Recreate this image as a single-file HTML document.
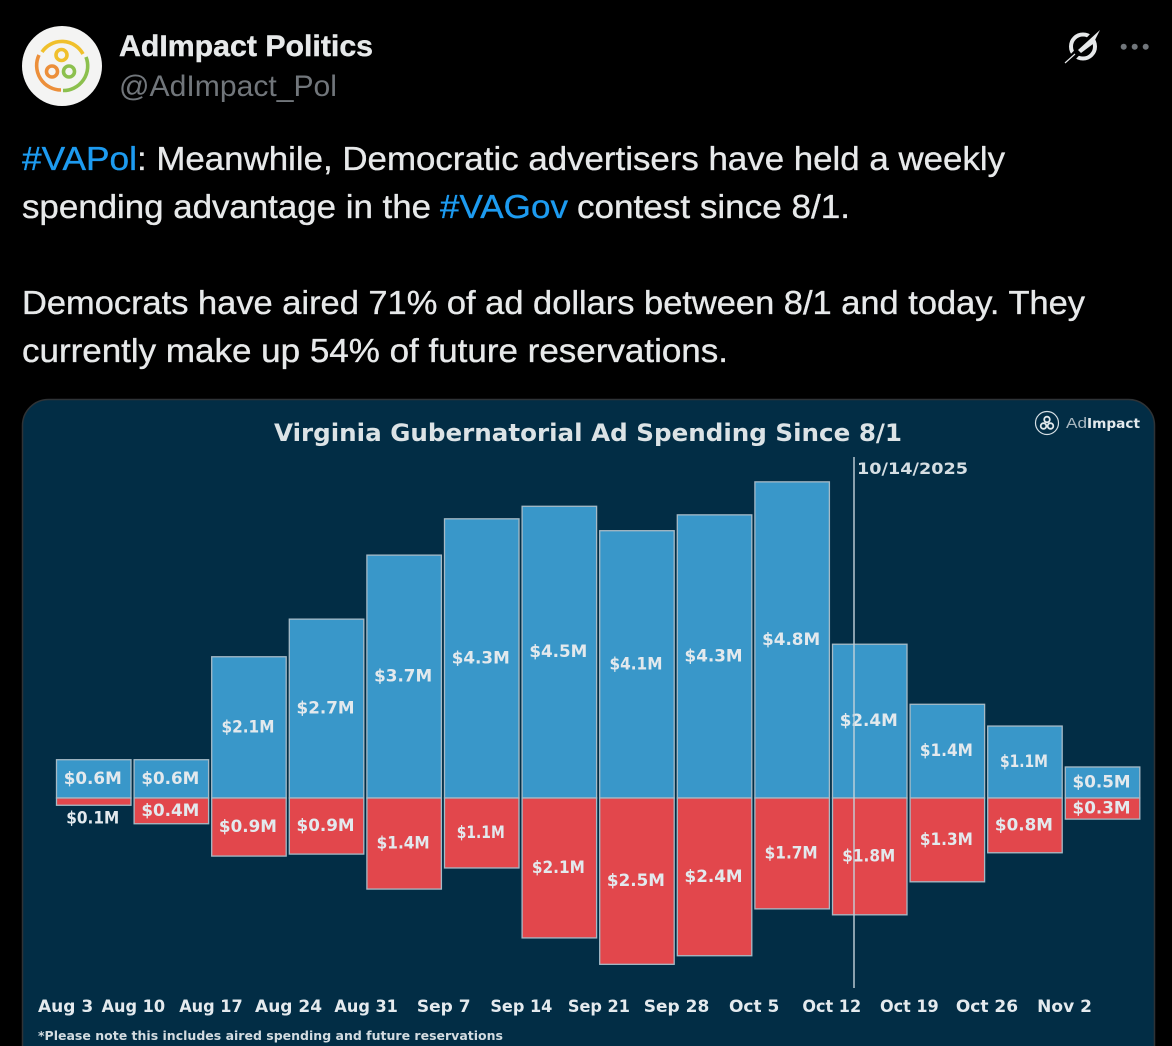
<!DOCTYPE html>
<html lang="en">
<head>
<meta charset="utf-8">
<title>AdImpact Politics post</title>
<style>
html,body{margin:0;padding:0;background:#000;width:1172px;height:1046px;overflow:hidden}
svg{display:block}
.tw{font-family:"Liberation Sans",sans-serif;font-size:33px;fill:#e7e9ea;stroke:#e7e9ea;stroke-width:.35px}
.ch{font-family:"DejaVu Sans","Liberation Sans",sans-serif;font-weight:700}
.val{font-size:16.5px;fill:#e3e9ed;text-anchor:middle}
.tick{font-size:17px;fill:#e4eaee;text-anchor:middle}
</style>
</head>
<body>
<svg id="page" xmlns="http://www.w3.org/2000/svg" width="1172" height="1046" viewBox="0 0 1172 1046">
  <rect width="1172" height="1046" fill="#000"/>

  <g>
    <circle cx="62" cy="66" r="40" fill="#f4f4f3"/>
    <g fill="none" stroke-width="3.6">
      <path d="M42 52 A24 24 0 0 1 83 54" stroke="#f0c02c"/>
      <path d="M86 57 A24.5 24.5 0 0 1 63 90.5" stroke="#8cc04e"/>
      <path d="M61 90 A24.5 24.5 0 0 1 39 55" stroke="#ec8f3a"/>
      <circle cx="61.5" cy="55" r="5.5" stroke="#f0c02c"/>
      <circle cx="52" cy="71.5" r="5.5" stroke="#ec8f3a"/>
      <circle cx="69" cy="71.5" r="5.5" stroke="#8cc04e"/>
    </g>
  </g>
  <text x="119" y="56" font-family="Liberation Sans, sans-serif" font-weight="700" font-size="30" fill="#e7e9ea" stroke="#e7e9ea" stroke-width="0.4" textLength="254" lengthAdjust="spacingAndGlyphs">AdImpact Politics</text>
  <text x="119" y="96" font-family="Liberation Sans, sans-serif" font-size="30" fill="#71767b" textLength="218" lengthAdjust="spacingAndGlyphs">@AdImpact_Pol</text>

  <g>
    <circle cx="1083" cy="46.5" r="12" fill="none" stroke="#e7e9ea" stroke-width="4"/>
    <path d="M1066 64 L1100 29" stroke="#000" stroke-width="7"/>
    <path d="M1100 30 L1093 44 L1081 53 L1078 50 Z" fill="#e7e9ea"/>
    <path d="M1065 63 L1075 54" stroke="#e7e9ea" stroke-width="1.2"/>
  </g>
  <g fill="#71767b">
    <circle cx="1123.7" cy="46.7" r="3"/><circle cx="1134.7" cy="46.7" r="3"/><circle cx="1145.7" cy="46.7" r="3"/>
  </g>

  <g>
    <text class="tw" x="22" y="170" style="fill:#1d9bf0;stroke:#1d9bf0" textLength="115" lengthAdjust="spacingAndGlyphs">#VAPol</text>
    <text class="tw" x="137" y="170" textLength="868" lengthAdjust="spacingAndGlyphs">: Meanwhile, Democratic advertisers have held a weekly</text>
    <text class="tw" x="22" y="218" textLength="409" lengthAdjust="spacingAndGlyphs">spending advantage in the</text>
    <text class="tw" x="440" y="218" style="fill:#1d9bf0;stroke:#1d9bf0" textLength="128" lengthAdjust="spacingAndGlyphs">#VAGov</text>
    <text class="tw" x="577" y="218" textLength="273" lengthAdjust="spacingAndGlyphs">contest since 8/1.</text>
    <text class="tw" x="22" y="314" textLength="1063" lengthAdjust="spacingAndGlyphs">Democrats have aired 71% of ad dollars between 8/1 and today. They</text>
    <text class="tw" x="22" y="362" textLength="706" lengthAdjust="spacingAndGlyphs">currently make up 54% of future reservations.</text>
  </g>

  <g>
    <rect x="22.5" y="399.5" width="1132" height="690" rx="26" ry="26" fill="#022d45" stroke="#2f3336" stroke-width="1.5"/>
  </g>
  <text class="ch" x="274" y="441" font-size="24" fill="#dce3e6" textLength="628" lengthAdjust="spacingAndGlyphs">Virginia Gubernatorial Ad Spending Since 8/1</text>

  <g>
    <circle cx="1047" cy="423" r="11.5" fill="none" stroke="#d7e0e5" stroke-width="1.2"/>
    <g fill="none" stroke="#e3e9ec" stroke-width="1.8">
      <circle cx="1047" cy="419.5" r="2.8"/><circle cx="1043.5" cy="426" r="2.8"/><circle cx="1050.5" cy="426" r="2.8"/>
    </g>
    <text x="1066" y="428" font-family="Liberation Sans, sans-serif" font-size="14.5" fill="#a9b8c1" textLength="21" lengthAdjust="spacingAndGlyphs">Ad</text>
    <text x="1087" y="428" font-family="DejaVu Sans, sans-serif" font-weight="700" font-size="13.5" fill="#e3e9ec" textLength="53" lengthAdjust="spacingAndGlyphs">Impact</text>
  </g>

  <g id="bars"></g>
  <g id="value-labels"></g>
  <g id="x-axis"></g>

  <line x1="854" x2="854" y1="457" y2="988" stroke="#c3d2da" stroke-width="1.4"/>
  <text class="ch" x="857" y="474" font-size="16" fill="#d5dee3" textLength="111" lengthAdjust="spacingAndGlyphs">10/14/2025</text>
  <text class="ch" x="38" y="1040" font-size="12.5" fill="#d3dce1" textLength="465" lengthAdjust="spacingAndGlyphs">*Please note this includes aired spending and future reservations</text>
</svg>

<script>
const weeks = ["Aug 3","Aug 10","Aug 17","Aug 24","Aug 31","Sep 7","Sep 14","Sep 21","Sep 28","Oct 5","Oct 12","Oct 19","Oct 26","Nov 2"];
const demSpend = [0.58,0.58,2.14,2.71,3.68,4.23,4.42,4.05,4.29,4.79,2.33,1.42,1.09,0.47];
const repSpend = [0.11,0.39,0.88,0.85,1.38,1.06,2.12,2.52,2.39,1.68,1.77,1.27,0.83,0.32];
const demLabels = ["$0.6M","$0.6M","$2.1M","$2.7M","$3.7M","$4.3M","$4.5M","$4.1M","$4.3M","$4.8M","$2.4M","$1.4M","$1.1M","$0.5M"];
const repLabels = ["$0.1M","$0.4M","$0.9M","$0.9M","$1.4M","$1.1M","$2.1M","$2.5M","$2.4M","$1.7M","$1.8M","$1.3M","$0.8M","$0.3M"];

const NS = "http://www.w3.org/2000/svg";
const baseY = 798;
const pxPerMillion = 66;
const bandStart = 56.5;
const bandStep = 77.6;
const barWidth = 74.5;
function xBand(i){ return bandStart + i * bandStep; }
function yValue(v){ return baseY - v * pxPerMillion; }
function countOnes(s){ return s.split("1").length - 1; }

const barsG = document.getElementById("bars");
const labelsG = document.getElementById("value-labels");
const axisG = document.getElementById("x-axis");

function makeRect(x, y, h, fill){
  const r = document.createElementNS(NS, "rect");
  r.setAttribute("x", x);
  r.setAttribute("y", y);
  r.setAttribute("width", barWidth);
  r.setAttribute("height", h);
  r.setAttribute("fill", fill);
  r.setAttribute("stroke", "#a6bac6");
  r.setAttribute("stroke-width", "1.3");
  return r;
}
function makeLabel(x, y, s){
  const t = document.createElementNS(NS, "text");
  t.setAttribute("class", "ch val");
  t.setAttribute("x", x);
  t.setAttribute("y", y);
  t.setAttribute("textLength", 58 - 5 * countOnes(s));
  t.setAttribute("lengthAdjust", "spacingAndGlyphs");
  t.textContent = s;
  return t;
}

weeks.forEach(function(week, i){
  const x = xBand(i);
  const cx = x + barWidth / 2;
  const demTop = yValue(demSpend[i]);
  const repBottom = yValue(-repSpend[i]);

  const demBar = makeRect(x, demTop, baseY - demTop, "#3997c9");
  
  
  barsG.appendChild(demBar);

  const repBar = makeRect(x, baseY, repBottom - baseY, "#e2474c");
  
  
  barsG.appendChild(repBar);

  const demText = makeLabel(cx - 1, (demTop + baseY) / 2 + 5, demLabels[i]);
  
  
  labelsG.appendChild(demText);

  const repHeight = repBottom - baseY;
  const repY = repHeight < 18 ? repBottom + 18 : (baseY + repBottom) / 2 + 5;
  const repText = makeLabel(cx - 1, repY, repLabels[i]);
  
  
  labelsG.appendChild(repText);

  const tick = document.createElementNS(NS, "text");
  tick.setAttribute("class", "ch tick");
  tick.setAttribute("x", cx - 38);
  tick.setAttribute("y", 1012);
  tick.textContent = week;
  
  
  axisG.appendChild(tick);
  const w = tick.getComputedTextLength() - 3.5 * countOnes(week);
  tick.setAttribute("textLength", w);
  tick.setAttribute("lengthAdjust", "spacingAndGlyphs");
  if (cx - 38 - w / 2 < 38) { tick.setAttribute("x", 38 + w / 2); }
});
</script>
</body>
</html>
